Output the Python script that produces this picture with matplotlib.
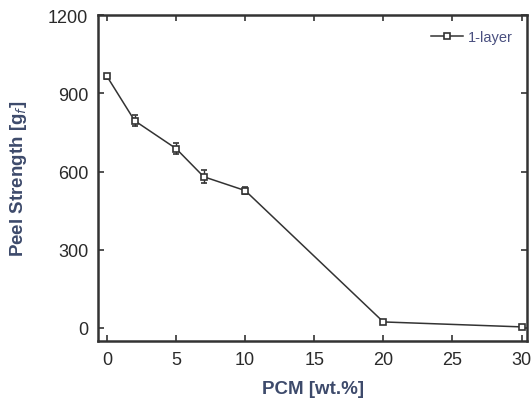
import numpy as np
import matplotlib
matplotlib.use('Agg')
import matplotlib.pyplot as plt
from matplotlib.lines import Line2D

# peel strength vs PCM content, 1-layer
pcm = [0, 2, 5, 7, 10, 20, 30]
peel = [965, 795, 688, 580, 527, 23, 4]
peel_err = [10, 22, 20, 25, 12, 8, 6]
series_label = '1-layer'
xticks = [0, 5, 10, 15, 20, 25, 30]
yticks = [0, 300, 600, 900, 1200]

plt.rcParams['font.family'] = ['Liberation Sans', 'DejaVu Sans']

fig = plt.figure(figsize=(5.31, 4.14), dpi=100)
ax = fig.add_axes([0.1846, 0.174, 0.808, 0.787])

dark = '#333333'
ax.errorbar(pcm, peel, yerr=peel_err, color=dark, lw=1.1, marker='s', ms=5,
            mfc='white', mec=dark, mew=1.2, capsize=2.5, elinewidth=1)

ax.set_xlim(-0.65, 30.4)
ax.set_ylim(-50, 1200)
ax.set_xticks(xticks)
ax.set_yticks(yticks)
ax.tick_params(direction='in', top=True, right=True, length=4, width=1.2,
               labelsize=13, colors=dark, labelcolor='#2a2a2a', pad=7)
for s in ax.spines.values():
    s.set_linewidth(1.8)
    s.set_color(dark)

label_col = '#3d4a6b'
ax.set_xlabel('PCM [wt.%]', fontsize=13.5, fontweight='bold', color=label_col, labelpad=9)
ax.set_ylabel('Peel Strength [g$_f$]', fontsize=13.5, fontweight='bold', color=label_col, labelpad=14)

handle = Line2D([], [], color=dark, lw=1.1, marker='s', ms=5, mfc='white', mec=dark, mew=1.2)
leg = ax.legend([handle], [series_label], loc='upper right', frameon=False, fontsize=10.5,
                handlelength=2.2, handletextpad=0.3, borderaxespad=0.6)
for t in leg.get_texts():
    t.set_color('#4a5080')

fig.savefig('out.png', dpi=100)
